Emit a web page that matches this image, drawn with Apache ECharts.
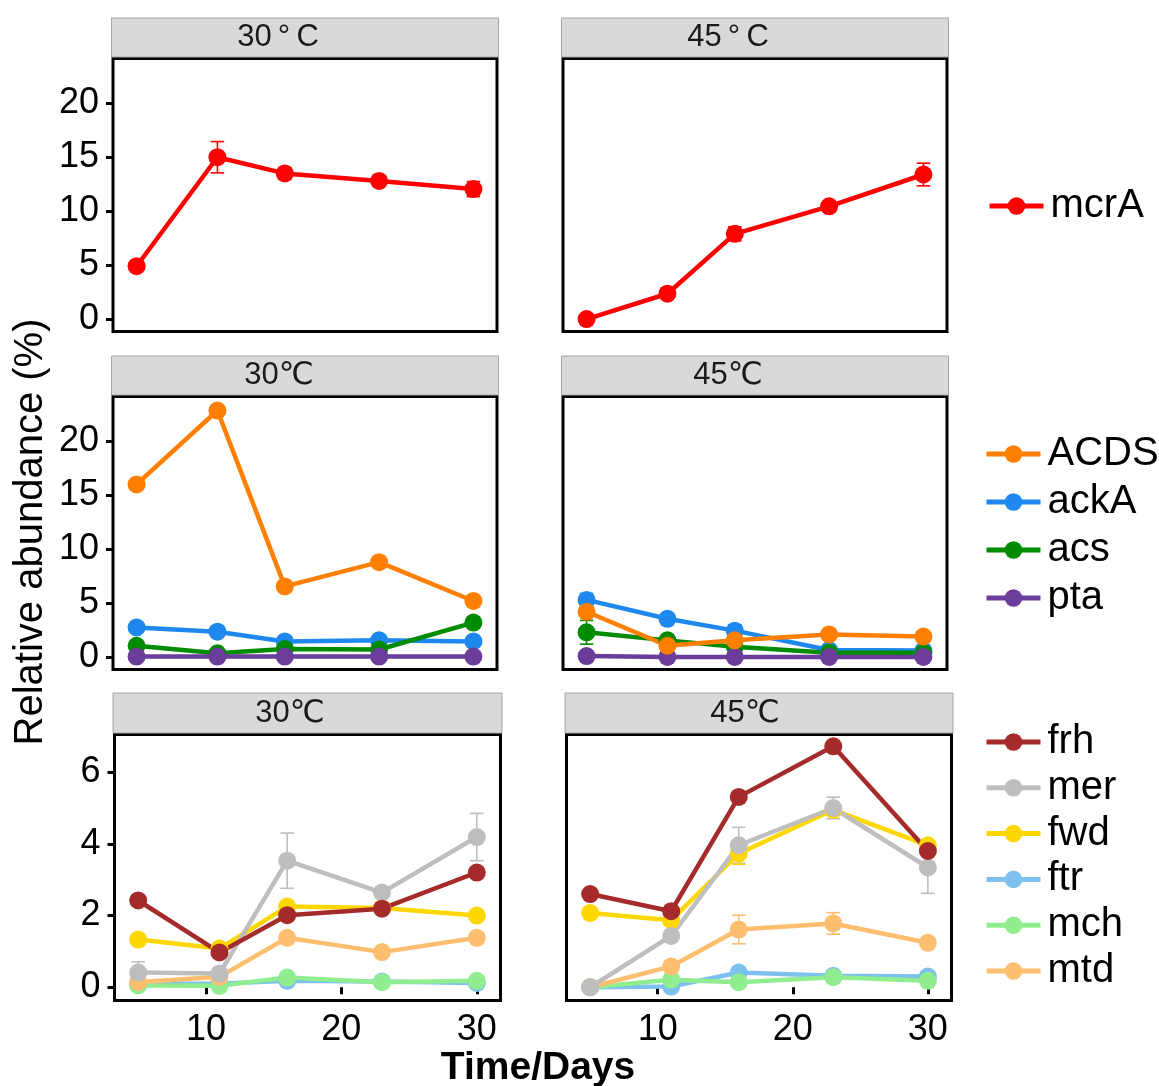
<!DOCTYPE html>
<html>
<head>
<meta charset="utf-8">
<title>Relative abundance of functional genes</title>
<script src="https://cdn.jsdelivr.net/npm/echarts@6/dist/echarts.min.js"></script>
<style>
  html, body { margin: 0; padding: 0; background: #fff; }
  #chart { width: 1159px; height: 1086px; }
</style>
</head>
<body>
<div id="chart"></div>
<script>
// Sampling days
const days = [5, 11, 16, 23, 30];

// Methanogenesis marker gene
const mcrA_30 = [4.9, 15.0, 13.5, 12.8, 12.05];
const mcrA_30_se = [0.2, 1.45, 0.55, 0.3, 0.7];
const mcrA_45 = [0.0, 2.35, 7.9, 10.45, 13.4];
const mcrA_45_se = [0.1, 0.3, 0.65, 0.3, 1.05];

// Acetate pathway genes
const ACDS_30 = [16.0, 22.85, 6.55, 8.8, 5.2];
const ackA_30 = [2.75, 2.35, 1.45, 1.55, 1.45];
const acs_30 = [1.05, 0.35, 0.75, 0.7, 3.2];
const pta_30 = [0.05, 0.05, 0.05, 0.05, 0.05];
const ACDS_45 = [4.2, 1.05, 1.55, 2.1, 1.9];
const ACDS_45_se = [0.3, 0.2, 0.2, 0.2, 0.2];
const ackA_45 = [5.3, 3.55, 2.45, 0.65, 0.6];
const ackA_45_se = [0.6, 0.2, 0.55, 0.1, 0.15];
const acs_45 = [2.3, 1.55, 0.95, 0.4, 0.4];
const acs_45_se = [1.1, 0.5, 0.2, 0.1, 0.1];
const pta_45 = [0.1, 0.02, 0.02, 0.02, 0.02];

// Hydrogenotrophic pathway genes
const frh_30 = [2.42, 0.97, 2.01, 2.19, 3.2];
const mer_30 = [0.41, 0.38, 3.53, 2.64, 4.19];
const mer_30_se = [0.3, 0.1, 0.77, 0.15, 0.66];
const fwd_30 = [1.33, 1.08, 2.25, 2.21, 2.0];
const ftr_30 = [0.1, 0.1, 0.18, 0.16, 0.12];
const mch_30 = [0.05, 0.04, 0.27, 0.14, 0.18];
const mtd_30 = [0.14, 0.29, 1.38, 0.98, 1.38];

const frh_45 = [2.6, 2.12, 5.31, 6.72, 3.8];
const mer_45 = [0.0, 1.43, 3.96, 5.0, 3.34];
const mer_45_se = [0.0, 0.1, 0.5, 0.3, 0.72];
const fwd_45 = [2.07, 1.87, 3.73, 4.95, 3.96];
const fwd_45_se = [0.05, 0.1, 0.3, 0.15, 0.1];
const ftr_45 = [0.0, 0.02, 0.41, 0.32, 0.3];
const mch_45 = [0.0, 0.21, 0.14, 0.28, 0.18];
const mtd_45 = [0.0, 0.58, 1.61, 1.78, 1.24];
const mtd_45_se = [0.0, 0.1, 0.4, 0.3, 0.1];

// Axis ticks
const yTicksWide = [0, 5, 10, 15, 20];
const yTicksNarrow = [0, 2, 4, 6];
const xTicks = [10, 20, 30];

// Panel headers
const stripLabels = ['30\u2009°\u2009C', '45\u2009°\u2009C', '30℃', '45℃', '30℃', '45℃'];

// Legend entries per row
const legendRow1 = ['mcrA'];
const legendRow2 = ['ACDS', 'ackA', 'acs', 'pta'];
const legendRow3 = ['frh', 'mer', 'fwd', 'ftr', 'mch', 'mtd'];

const colors = {
  mcrA: '#FF0000',
  ACDS: '#FF7F00', ackA: '#1E88EE', acs: '#008B00', pta: '#6A3D9A',
  frh: '#A52A2A', mer: '#BEBEBE', fwd: '#FFD700', ftr: '#7EC0EE', mch: '#90EE90', mtd: '#FDBF6F'
};

const FONT = '"Liberation Sans", Arial, "DejaVu Sans", sans-serif';

// Panel rectangles (grid index 0..5: rows top to bottom, 30 °C left, 45 °C right)
const grids = [
  { left: 113, top: 58.5, width: 384, height: 273 },
  { left: 563, top: 58.5, width: 384, height: 273 },
  { left: 113, top: 396.5, width: 384, height: 273 },
  { left: 563, top: 396.5, width: 384, height: 273 },
  { left: 114.5, top: 734.5, width: 386, height: 266 },
  { left: 566.5, top: 734.5, width: 385, height: 266 }
];
const stripTop = [18, 18, 356, 356, 693, 693];
const stripTextX = [278, 728, 279, 728, 290, 745];

const series = [];
const errorSeries = [];

function addLine(name, values, panel) {
  series.push({
    type: 'line',
    name: name,
    xAxisIndex: panel,
    yAxisIndex: panel,
    data: days.map((d, i) => [d, values[i]]),
    symbol: 'circle',
    symbolSize: 18,
    showSymbol: true,
    lineStyle: { width: 4.5, color: colors[name] },
    itemStyle: { color: colors[name] },
    emphasis: { disabled: true },
    animation: false
  });
}

function addErrors(name, values, se, panel) {
  const rows = [];
  days.forEach((d, i) => {
    if (se[i] > 0) rows.push([d, values[i] - se[i], values[i] + se[i]]);
  });
  const color = colors[name];
  errorSeries.push({
    type: 'custom',
    xAxisIndex: panel,
    yAxisIndex: panel,
    data: rows,
    encode: { x: 0, y: [1, 2] },
    animation: false,
    silent: true,
    renderItem: function (params, api) {
      const x = api.value(0);
      const lo = api.coord([x, api.value(1)]);
      const hi = api.coord([x, api.value(2)]);
      const l = api.coord([x - 0.5, api.value(1)])[0];
      const r = api.coord([x + 0.5, api.value(1)])[0];
      const st = { stroke: color, lineWidth: 1.6 };
      return {
        type: 'group',
        children: [
          { type: 'line', shape: { x1: lo[0], y1: lo[1], x2: hi[0], y2: hi[1] }, style: st },
          { type: 'line', shape: { x1: l, y1: hi[1], x2: r, y2: hi[1] }, style: st },
          { type: 'line', shape: { x1: l, y1: lo[1], x2: r, y2: lo[1] }, style: st }
        ]
      };
    }
  });
}

// Row 1
addErrors('mcrA', mcrA_30, mcrA_30_se, 0);
addErrors('mcrA', mcrA_45, mcrA_45_se, 1);
addLine('mcrA', mcrA_30, 0);
addLine('mcrA', mcrA_45, 1);

// Row 2 (ACDS drawn last so its points sit on top)
addErrors('ACDS', ACDS_45, ACDS_45_se, 3);
addErrors('ackA', ackA_45, ackA_45_se, 3);
addErrors('acs', acs_45, acs_45_se, 3);
addLine('ackA', ackA_30, 2);
addLine('acs', acs_30, 2);
addLine('pta', pta_30, 2);
addLine('ACDS', ACDS_30, 2);
addLine('ackA', ackA_45, 3);
addLine('acs', acs_45, 3);
addLine('pta', pta_45, 3);
addLine('ACDS', ACDS_45, 3);

// Row 3
addErrors('mer', mer_30, mer_30_se, 4);
addErrors('mer', mer_45, mer_45_se, 5);
addErrors('fwd', fwd_45, fwd_45_se, 5);
addErrors('mtd', mtd_45, mtd_45_se, 5);
addLine('ftr', ftr_30, 4);
addLine('mch', mch_30, 4);
addLine('mtd', mtd_30, 4);
addLine('fwd', fwd_30, 4);
addLine('mer', mer_30, 4);
addLine('frh', frh_30, 4);
addLine('ftr', ftr_45, 5);
addLine('mch', mch_45, 5);
addLine('mtd', mtd_45, 5);
addLine('fwd', fwd_45, 5);
addLine('mer', mer_45, 5);
addLine('frh', frh_45, 5);

const xAxes = grids.map((g, i) => {
  const bottomRow = i >= 4;
  return {
    type: 'value',
    gridIndex: i,
    min: 3.25,
    max: 31.75,
    show: true,
    axisLine: { show: false },
    splitLine: { show: false },
    axisTick: {
      show: bottomRow,
      customValues: xTicks,
      length: 7,
      lineStyle: { color: '#000', width: 3 }
    },
    axisLabel: {
      show: bottomRow,
      customValues: xTicks,
      margin: 12,
      fontSize: 36,
      color: '#000',
      fontFamily: FONT
    }
  };
});

const yAxes = grids.map((g, i) => {
  const bottomRow = i >= 4;
  const leftCol = i % 2 === 0;
  const ticks = bottomRow ? yTicksNarrow : yTicksWide;
  return {
    type: 'value',
    gridIndex: i,
    min: bottomRow ? -0.37 : -1.15,
    max: bottomRow ? 7.05 : 24.15,
    axisLine: { show: false },
    splitLine: { show: false },
    axisTick: {
      show: leftCol,
      customValues: ticks,
      length: 7,
      lineStyle: { color: '#000', width: 3 }
    },
    axisLabel: {
      show: leftCol,
      customValues: ticks,
      margin: 14,
      fontSize: 36,
      color: '#000',
      fontFamily: FONT
    }
  };
});

// Panel header strips and their labels
const graphics = [];
grids.forEach((g, i) => {
  graphics.push({
    type: 'rect',
    silent: true,
    shape: { x: g.left - 1.5, y: stripTop[i], width: g.width + 3, height: g.top - 1.5 - stripTop[i] },
    style: { fill: '#D9D9D9', stroke: '#A6A6A6', lineWidth: 1 },
    z: 10
  });
  graphics.push({
    type: 'text',
    silent: true,
    x: stripTextX[i],
    y: (stripTop[i] + g.top - 1.5) / 2,
    style: {
      text: stripLabels[i],
      fill: '#1A1A1A',
      font: '31px ' + FONT,
      textAlign: 'center',
      textVerticalAlign: 'middle'
    },
    z: 11
  });
});
// Shared axis titles
graphics.push({
  type: 'text',
  silent: true,
  x: 31,
  y: 532,
  rotation: Math.PI / 2,
  style: {
    text: 'Relative abundance (%)',
    fill: '#000',
    font: '40px ' + FONT,
    textAlign: 'center',
    textVerticalAlign: 'middle'
  }
});
graphics.push({
  type: 'text',
  silent: true,
  x: 538,
  y: 1068,
  style: {
    text: 'Time/Days',
    fill: '#000',
    font: 'bold 39px ' + FONT,
    textAlign: 'center',
    textVerticalAlign: 'middle'
  }
});

function legendBlock(names, top, gap, left) {
  return {
    orient: 'vertical',
    left: left,
    top: top,
    padding: 0,
    itemGap: gap,
    itemWidth: 54,
    itemHeight: 22,
    selectedMode: false,
    data: names,
    lineStyle: { width: 5 },
    textStyle: { fontSize: 40, lineHeight: 40, color: '#000', fontFamily: FONT, padding: [0, 0, 0, 2] }
  };
}

const option = {
  backgroundColor: '#fff',
  animation: false,
  grid: grids.map(g => Object.assign({
    show: true,
    borderColor: '#000',
    borderWidth: 3,
    backgroundColor: '#fff',
    containLabel: false
  }, g)),
  xAxis: xAxes,
  yAxis: yAxes,
  legend: [
    legendBlock(legendRow1, 186, 8, 987),
    legendBlock(legendRow2, 434, 8, 984),
    legendBlock(legendRow3, 722, 5.8, 984)
  ],
  graphic: graphics,
  series: errorSeries.concat(series)
};

const chart = echarts.init(document.getElementById('chart'), null, { renderer: 'canvas' });
chart.setOption(option);
</script>
</body>
</html>
